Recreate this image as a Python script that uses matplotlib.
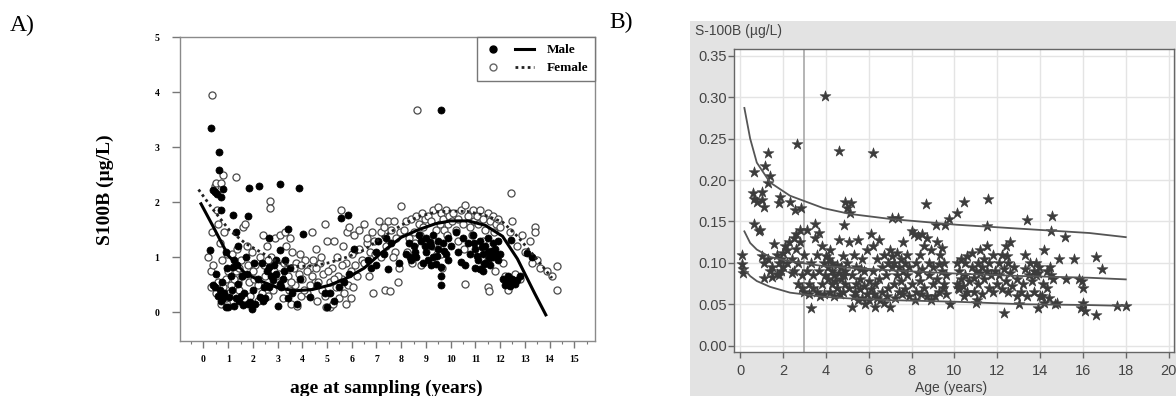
import numpy as np
import matplotlib
matplotlib.use("Agg")
import matplotlib.pyplot as plt
from matplotlib.patches import Rectangle
from matplotlib.lines import Line2D
from matplotlib.legend_handler import HandlerTuple

# ---- Panel A: S100B vs age, by sex (age in years, S100B in ug/L)
male_pts = [
    (0.30, 3.35), (0.62, 2.92), (0.62, 2.59), (0.38, 2.22), (0.45, 2.19), (0.72, 2.10), (0.78, 2.24),
    (0.55, 2.15), (0.72, 1.86), (0.25, 1.13), (0.40, 0.49), (0.45, 0.45), (0.60, 0.30), (0.70, 0.20),
    (0.80, 0.25), (0.90, 0.10), (0.85, 0.35), (0.90, 1.10), (0.75, 0.55), (0.95, 0.80),
    (1.20, 1.76), (1.80, 1.74), (1.84, 2.26), (1.30, 1.45), (1.40, 1.20), (1.25, 0.94), (1.20, 0.82),
    (1.40, 0.52), (1.05, 0.28), (1.00, 0.10), (1.60, 0.13), (1.90, 0.19), (1.15, 0.40), (1.30, 0.25),
    (1.80, 0.15), (1.55, 0.65), (1.75, 0.70), (1.73, 1.00), (1.65, 0.35), (1.45, 0.20), (1.25, 0.12),
    (2.23, 2.29), (2.27, 0.28), (2.10, 0.15), (2.50, 0.25), (2.35, 0.90), (2.67, 1.34), (2.67, 0.82),
    (2.81, 0.58), (2.94, 0.94), (2.55, 0.75), (2.65, 0.45), (2.40, 0.20), (2.20, 0.60), (2.85, 0.85),
    (2.95, 0.70), (3.09, 2.34), (3.08, 1.13), (3.08, 0.52), (3.02, 0.11), (3.42, 1.52), (4.02, 1.43),
    (3.88, 2.25), (3.25, 0.75), (3.20, 0.60), (3.15, 0.45), (3.50, 0.80), (3.60, 0.35), (3.80, 0.15),
    (3.90, 0.60), (4.30, 0.28), (4.60, 0.50), (5.00, 0.09), (5.10, 0.35), (5.30, 0.20), (5.50, 0.45),
    (5.58, 1.71), (5.85, 1.76), (5.90, 0.70), (4.90, 0.35), (5.70, 0.55), (6.10, 1.15),
    (0.50, 0.70), (0.65, 0.40), (1.10, 0.65), (1.50, 0.30), (2.00, 0.40), (2.05, 0.90), (2.75, 0.65),
    (3.30, 0.95), (3.40, 0.25), (1.95, 0.05), (1.35, 0.85), (2.45, 0.45),
    (6.65, 0.95), (7.00, 0.85), (7.05, 1.30), (6.79, 0.80), (7.46, 0.78), (7.30, 1.05), (7.60, 1.25),
    (7.40, 1.35), (7.90, 0.90), (7.00, 1.10),
    (8.20, 1.05), (8.40, 0.95), (8.50, 1.20), (8.60, 1.00), (8.80, 1.30), (8.90, 0.90), (9.00, 1.10),
    (9.00, 1.35), (9.10, 0.95), (9.20, 1.20), (9.30, 1.40), (9.30, 1.00), (9.40, 0.88), (9.50, 1.15),
    (9.50, 1.30), (9.60, 0.82), (9.60, 0.66), (9.60, 0.49), (9.70, 1.25), (9.80, 1.05), (9.90, 1.35),
    (9.90, 0.95), (8.30, 1.25), (8.70, 1.40), (9.20, 0.85), (10.00, 1.20), (9.60, 3.68),
    (8.55, 1.10), (8.95, 1.20), (9.15, 1.28), (9.45, 1.02), (9.75, 1.12), (8.35, 1.00),
    (10.30, 1.10), (10.40, 0.92), (10.50, 1.35), (10.60, 0.85), (10.70, 1.25), (10.80, 1.05),
    (10.90, 1.40), (11.00, 0.80), (11.00, 1.15), (11.10, 0.95), (11.20, 1.30), (11.20, 0.78),
    (11.30, 1.05), (11.40, 1.20), (11.40, 0.90), (11.50, 1.35), (11.50, 1.10), (11.60, 0.85),
    (11.70, 1.00), (11.70, 1.25), (11.80, 1.15), (11.90, 0.95), (11.90, 1.30), (10.20, 1.45),
    (11.30, 0.75), (12.00, 1.05), (11.05, 1.02), (11.25, 1.18), (11.55, 0.98), (11.65, 1.12),
    (10.95, 1.25), (11.35, 0.88), (11.85, 1.05),
    (12.10, 0.60), (12.20, 0.50), (12.30, 0.55), (12.40, 0.48), (12.50, 0.60), (12.60, 0.52),
    (12.70, 0.58), (12.80, 0.65), (12.46, 1.31), (13.10, 1.07), (13.30, 1.00), (12.30, 0.65),
]

female_pts = [
    (0.35, 3.95), (0.20, 1.00), (0.30, 0.75), (0.35, 1.45), (0.45, 2.30), (0.50, 2.35), (0.55, 1.85),
    (0.70, 2.35), (0.80, 2.50), (0.60, 0.55), (0.70, 0.15), (0.80, 0.45), (0.90, 0.60), (0.50, 0.35),
    (0.40, 0.85), (0.60, 1.60), (0.85, 1.45), (0.95, 1.05), (0.75, 0.95), (0.65, 1.25), (0.90, 0.25),
    (0.30, 0.45),
    (1.30, 2.45), (1.10, 0.50), (1.20, 0.20), (1.30, 0.75), (1.45, 0.40), (1.50, 0.95), (1.60, 1.55),
    (1.70, 1.60), (1.75, 1.20), (1.85, 0.55), (1.90, 0.30), (1.15, 1.05), (1.35, 1.15), (1.55, 0.65),
    (1.65, 0.25), (1.80, 0.85), (1.95, 1.10), (1.05, 0.35), (1.40, 0.55), (1.25, 0.60),
    (2.10, 0.85), (2.20, 0.50), (2.30, 1.00), (2.40, 1.40), (2.50, 0.65), (2.60, 0.30), (2.70, 2.02),
    (2.70, 1.90), (2.75, 1.00), (2.80, 0.40), (2.90, 1.35), (2.95, 0.55), (2.20, 0.20), (2.45, 0.85),
    (2.55, 1.20), (2.35, 0.35), (2.85, 0.75), (2.05, 0.60),
    (3.10, 1.40), (3.20, 0.25), (3.30, 1.45), (3.40, 0.65), (3.50, 1.35), (3.55, 0.15), (3.60, 1.10),
    (3.70, 0.50), (3.75, 0.90), (3.80, 0.12), (3.85, 0.70), (3.90, 1.05), (3.95, 0.30), (3.25, 0.90),
    (3.45, 0.40), (3.65, 0.80), (3.35, 1.20), (4.00, 0.60),
    (4.10, 0.95), (4.20, 0.35), (4.30, 0.80), (4.40, 1.45), (4.50, 0.55), (4.55, 1.15), (4.60, 0.20),
    (4.70, 0.90), (4.80, 0.40), (4.85, 0.70), (4.90, 1.60), (4.95, 0.10), (4.20, 0.75), (4.45, 0.95),
    (4.75, 1.00), (4.65, 0.55), (4.30, 0.50), (4.90, 0.30),
    (5.00, 1.30), (5.10, 0.10), (5.20, 0.80), (5.30, 1.30), (5.35, 0.45), (5.40, 1.00), (5.50, 0.25),
    (5.55, 1.85), (5.60, 0.60), (5.65, 1.20), (5.70, 0.35), (5.75, 0.90), (5.80, 1.45), (5.85, 0.50),
    (5.90, 1.55), (5.95, 0.25), (6.00, 1.05), (5.25, 0.15), (5.45, 0.65), (5.60, 0.85), (5.10, 0.55),
    (5.95, 0.75),
    (1.00, 0.75), (1.45, 0.80), (2.00, 0.75), (2.60, 0.95), (3.05, 0.70), (3.55, 0.55), (4.05, 0.40),
    (4.40, 0.65), (5.05, 0.75), (5.30, 0.60), (5.75, 0.15), (6.05, 0.45), (4.55, 0.80), (3.95, 0.85),
    (6.10, 1.40), (6.20, 0.65), (6.30, 1.15), (6.40, 0.95), (6.50, 1.60), (6.60, 1.25), (6.70, 0.65),
    (6.80, 1.45), (6.85, 0.35), (6.90, 1.30), (6.60, 1.35), (6.30, 1.50), (6.15, 0.85), (6.75, 1.10),
    (6.95, 1.05), (6.50, 0.90),
    (7.10, 1.65), (7.20, 1.45), (7.30, 1.55), (7.35, 0.40), (7.45, 1.65), (7.50, 1.25), (7.55, 0.38),
    (7.60, 1.50), (7.70, 1.65), (7.75, 1.10), (7.80, 1.35), (7.90, 0.80), (7.95, 1.45), (7.20, 1.00),
    (7.40, 1.20), (7.65, 1.00), (7.85, 0.55),
    (8.00, 1.93), (8.10, 1.50), (8.20, 1.65), (8.30, 1.35), (8.40, 1.70), (8.50, 1.45), (8.60, 1.75),
    (8.64, 3.68), (8.70, 1.60), (8.80, 0.85), (8.85, 1.80), (8.90, 1.55), (8.95, 1.70), (8.25, 1.10),
    (8.55, 1.25), (8.75, 1.40), (8.45, 0.90),
    (9.10, 1.75), (9.20, 1.65), (9.30, 1.85), (9.40, 1.50), (9.49, 1.92), (9.55, 1.60), (9.60, 1.80),
    (9.65, 0.80), (9.70, 1.70), (9.75, 1.50), (9.80, 1.85), (9.90, 1.60), (9.95, 1.75), (9.30, 1.20),
    (9.45, 1.05), (9.85, 1.40), (9.60, 1.05),
    (10.05, 1.65), (10.10, 1.80), (10.20, 1.50), (10.30, 1.70), (10.40, 1.85), (10.50, 1.60),
    (10.57, 1.95), (10.70, 1.75), (10.57, 0.52), (10.80, 1.55), (10.90, 1.85), (10.95, 1.65),
    (10.30, 1.30), (10.55, 1.15), (10.85, 1.40),
    (11.05, 1.75), (11.10, 1.60), (11.20, 1.85), (11.30, 1.70), (11.40, 1.50), (11.50, 1.80),
    (11.52, 0.46), (11.55, 0.38), (11.60, 1.65), (11.70, 1.75), (11.75, 1.45), (11.80, 0.75),
    (11.85, 1.60), (11.90, 1.70), (11.30, 1.30), (11.50, 0.95),
    (12.00, 1.55), (12.10, 0.90), (12.20, 0.65), (12.30, 0.40), (12.40, 1.45), (12.43, 2.17),
    (12.50, 1.65), (12.60, 0.70), (12.70, 1.20), (12.80, 0.60), (13.00, 1.10), (13.20, 1.30),
    (13.40, 1.55), (13.40, 1.46), (13.50, 0.95), (13.60, 0.80), (13.90, 0.75), (14.30, 0.83),
    (14.30, 0.40), (14.10, 0.65), (12.90, 1.40), (13.30, 0.90),
]

# fitted curves
fit_age = [-0.1, 0.4, 1.0, 1.7, 2.4, 3.1, 3.75, 4.4, 5.1, 5.8, 6.5, 7.2, 8.0, 8.7, 9.4, 10.0,
           10.7, 11.4, 12.1, 12.7, 13.4, 13.85]
male_fit = [1.97, 1.55, 1.03, 0.70, 0.55, 0.43, 0.39, 0.41, 0.49, 0.62, 0.80, 1.08, 1.36, 1.50,
            1.61, 1.66, 1.66, 1.58, 1.38, 0.97, 0.34, -0.05]
fem_age = [-0.2, 0.4, 1.05, 1.7, 2.4, 3.1, 3.75, 4.4, 5.1, 5.8, 6.5, 7.2, 8.0, 8.7, 9.4, 10.0,
           10.7, 11.4, 12.1, 12.7, 13.4, 14.1]
fem_fit = [2.23, 1.86, 1.49, 1.25, 1.07, 0.89, 0.83, 0.84, 0.90, 1.00, 1.13, 1.35, 1.58, 1.74,
           1.82, 1.84, 1.83, 1.76, 1.64, 1.38, 1.01, 0.62]

# ---- Panel B: S-100B vs age with percentile curves
stars = [
    (3.97, 0.302), (2.67, 0.243), (4.62, 0.235), (6.21, 0.233), (1.29, 0.233), (1.16, 0.217),
    (0.66, 0.210), (1.41, 0.205), (1.29, 0.196),
    (0.60, 0.184), (0.66, 0.177), (1.03, 0.186), (1.00, 0.176), (1.12, 0.167), (0.78, 0.174),
    (1.84, 0.180), (1.81, 0.172), (2.33, 0.173), (2.55, 0.164), (2.84, 0.166), (0.64, 0.147),
    (0.95, 0.140), (0.86, 0.139),
    (4.91, 0.174), (5.17, 0.172), (5.00, 0.166), (5.14, 0.160), (4.83, 0.146), (8.67, 0.171),
    (10.47, 0.173), (11.55, 0.177), (10.14, 0.160), (9.74, 0.153), (9.14, 0.146), (9.57, 0.146),
    (7.07, 0.154), (7.38, 0.154), (11.52, 0.144), (13.40, 0.152), (14.57, 0.156), (14.52, 0.139),
    (15.17, 0.131),
    (0.10, 0.110), (0.10, 0.098), (0.15, 0.092), (0.15, 0.088), (1.00, 0.108), (1.10, 0.100),
    (1.10, 0.082), (1.30, 0.105),
    (1.50, 0.095), (1.60, 0.123), (1.70, 0.110), (1.80, 0.085), (1.80, 0.100), (1.90, 0.090),
    (1.90, 0.105), (2.00, 0.112), (1.40, 0.090), (1.70, 0.087), (1.50, 0.083), (2.00, 0.095),
    (2.10, 0.120), (2.20, 0.100), (2.20, 0.115), (2.30, 0.125), (2.40, 0.088), (2.40, 0.105),
    (2.50, 0.130), (2.50, 0.090), (2.60, 0.117), (2.70, 0.075), (2.70, 0.100), (2.80, 0.140),
    (2.80, 0.125), (2.90, 0.070), (2.90, 0.085), (3.00, 0.065), (2.60, 0.135), (3.00, 0.110),
    (3.10, 0.140), (3.10, 0.090), (3.20, 0.075), (3.20, 0.062), (3.30, 0.045), (3.30, 0.100),
    (3.40, 0.085), (3.50, 0.130), (3.50, 0.147), (3.60, 0.065), (3.60, 0.110), (3.70, 0.136),
    (3.70, 0.090), (3.80, 0.120), (3.80, 0.075), (3.90, 0.100), (3.90, 0.062), (4.00, 0.108),
    (3.40, 0.070), (3.75, 0.060), (3.95, 0.085),
    (4.10, 0.095), (4.10, 0.080), (4.20, 0.115), (4.20, 0.065), (4.30, 0.090), (4.30, 0.100),
    (4.30, 0.075), (4.40, 0.085), (4.40, 0.060), (4.50, 0.097), (4.50, 0.070), (4.60, 0.128),
    (4.60, 0.088), (4.70, 0.080), (4.70, 0.095), (4.80, 0.065), (4.80, 0.108), (4.90, 0.090),
    (4.90, 0.075), (5.00, 0.100), (4.15, 0.105), (4.45, 0.078), (4.65, 0.062), (4.85, 0.085),
    (5.10, 0.125), (5.10, 0.070), (5.20, 0.047), (5.20, 0.085), (5.30, 0.110), (5.30, 0.060),
    (5.40, 0.075), (5.40, 0.095), (5.50, 0.127), (5.50, 0.055), (5.60, 0.068), (5.60, 0.080),
    (5.70, 0.105), (5.70, 0.058), (5.80, 0.072), (5.80, 0.090), (5.90, 0.062), (5.90, 0.115),
    (6.00, 0.078), (6.00, 0.055), (5.35, 0.065), (5.65, 0.092), (5.85, 0.050),
    (6.10, 0.135), (6.10, 0.068), (6.20, 0.120), (6.20, 0.090), (6.30, 0.047), (6.30, 0.075),
    (6.40, 0.105), (6.40, 0.058), (6.50, 0.128), (6.50, 0.080), (6.60, 0.065), (6.60, 0.095),
    (6.70, 0.110), (6.70, 0.052), (6.80, 0.085), (6.90, 0.070), (6.90, 0.100), (7.00, 0.047),
    (7.00, 0.115), (6.25, 0.062), (6.55, 0.055), (6.85, 0.060),
    (7.10, 0.095), (7.10, 0.108), (7.20, 0.075), (7.20, 0.100), (7.30, 0.112), (7.30, 0.085),
    (7.40, 0.065), (7.40, 0.095), (7.50, 0.105), (7.50, 0.078), (7.60, 0.090), (7.60, 0.125),
    (7.70, 0.068), (7.70, 0.100), (7.80, 0.110), (7.80, 0.085), (7.90, 0.060), (7.90, 0.095),
    (8.00, 0.138), (8.00, 0.075), (7.25, 0.058), (7.55, 0.062),
    (8.10, 0.135), (8.20, 0.100), (8.20, 0.065), (8.30, 0.088), (8.30, 0.132), (8.40, 0.110),
    (8.40, 0.078), (8.50, 0.135), (8.50, 0.092), (8.60, 0.070), (8.60, 0.120), (8.70, 0.130),
    (8.70, 0.060), (8.80, 0.100), (8.80, 0.085), (8.90, 0.055), (8.90, 0.115), (9.00, 0.075),
    (9.00, 0.095), (8.15, 0.055), (8.45, 0.062),
    (9.10, 0.060), (9.20, 0.125), (9.20, 0.080), (9.30, 0.098), (9.30, 0.065), (9.40, 0.118),
    (9.40, 0.090), (9.50, 0.100), (9.50, 0.075), (9.60, 0.085), (9.60, 0.062), (9.80, 0.050),
    (9.35, 0.110), (9.45, 0.070),
    (10.10, 0.075), (10.10, 0.100), (10.20, 0.068), (10.20, 0.090), (10.30, 0.105), (10.30, 0.080),
    (10.40, 0.072), (10.50, 0.100), (10.50, 0.085), (10.60, 0.065), (10.60, 0.108), (10.70, 0.078),
    (10.80, 0.112), (10.80, 0.095), (10.90, 0.065), (10.90, 0.082), (11.00, 0.052), (11.00, 0.090),
    (10.15, 0.070), (10.45, 0.060),
    (11.10, 0.100), (11.10, 0.075), (11.20, 0.088), (11.20, 0.115), (11.30, 0.062), (11.30, 0.095),
    (11.40, 0.080), (11.40, 0.105), (11.50, 0.120), (11.50, 0.090), (11.60, 0.070), (11.60, 0.100),
    (11.70, 0.085), (11.80, 0.110), (11.80, 0.065), (11.90, 0.090), (12.00, 0.075), (11.05, 0.055),
    (12.10, 0.100), (12.10, 0.085), (12.20, 0.068), (12.20, 0.110), (12.30, 0.040), (12.30, 0.092),
    (12.40, 0.078), (12.40, 0.120), (12.50, 0.100), (12.50, 0.065), (12.60, 0.125), (12.60, 0.088),
    (12.70, 0.072), (12.80, 0.095), (12.90, 0.060), (12.90, 0.080), (13.00, 0.050), (12.45, 0.108),
    (13.10, 0.065), (13.20, 0.075), (13.30, 0.110), (13.30, 0.092), (13.40, 0.060), (13.50, 0.085),
    (13.60, 0.078), (13.70, 0.090), (13.70, 0.065), (13.80, 0.100), (13.80, 0.085), (13.90, 0.045),
    (13.90, 0.088), (14.00, 0.060), (13.55, 0.100), (13.95, 0.095),
    (14.10, 0.060), (14.20, 0.115), (14.20, 0.052), (14.30, 0.090), (14.30, 0.070), (14.40, 0.058),
    (14.50, 0.085), (14.60, 0.080), (14.70, 0.050), (14.80, 0.052), (14.90, 0.105), (14.15, 0.075),
    (14.45, 0.095),
    (15.20, 0.080), (15.60, 0.105), (15.80, 0.080), (15.90, 0.045), (16.00, 0.070), (16.00, 0.052),
    (16.10, 0.042), (16.60, 0.037), (16.60, 0.107), (16.90, 0.092), (17.60, 0.048), (18.00, 0.048),
    (15.95, 0.078),
]

pct_age = [0.2, 0.47, 0.78, 1.4, 2.33, 3.89, 5.13, 7.0, 10.1, 13.2, 16.3, 18.0]
pct_upper = [0.287, 0.250, 0.221, 0.197, 0.181, 0.166, 0.159, 0.153, 0.146, 0.141, 0.136, 0.131]
pct_mid = [0.138, 0.124, 0.116, 0.107, 0.102, 0.096, 0.094, 0.091, 0.087, 0.084, 0.082, 0.080]
pct_low = [0.092, 0.084, 0.078, 0.071, 0.064, 0.059, 0.057, 0.055, 0.053, 0.050, 0.049, 0.048]

W, H = 1176, 396


def box(l, t, r, b):
    return [l / W, 1 - b / H, (r - l) / W, (b - t) / H]


fig = plt.figure(figsize=(W / 100, H / 100), dpi=100)
fig.add_artist(Rectangle((690 / W, 0), (W - 690) / W, (H - 21) / H, transform=fig.transFigure,
                         facecolor="#e3e3e3", edgecolor="none", zorder=-5))

serif = "Liberation Serif"
sans = "Liberation Sans"

# ---------------- Panel A
axA = fig.add_axes(box(179.5, 37.3, 595, 340.7))
mx, my = np.array(male_pts).T
fx, fy = np.array(female_pts).T
axA.scatter(fx, fy, s=26, facecolor="white", edgecolor="#4a4a4a", lw=0.9, zorder=2)
axA.scatter(mx, my, s=26, facecolor="black", edgecolor="black", lw=0.5, zorder=3)
axA.plot(fit_age, male_fit, color="black", lw=2.2, zorder=4)
axA.plot(fem_age, fem_fit, color="#222222", lw=2.0, ls=(0, (1, 1.2)), zorder=4)
axA.set_xlim(-0.97, 15.84)
axA.set_ylim(-0.52, 5)
axA.set_xticks(range(16))
axA.set_xticks(np.arange(-0.5, 15.6, 0.5), minor=True)
axA.set_yticks(range(6))
for s in axA.spines.values():
    s.set_color("#8a8a8a")
    s.set_linewidth(1.0)
axA.tick_params(axis="x", which="major", length=5, width=1, color="#777777", pad=5)
axA.tick_params(axis="x", which="minor", length=2.5, width=0.8, color="#777777")
axA.tick_params(axis="y", length=5.5, width=1, color="#777777", pad=9)
for lab in axA.get_xticklabels() + axA.get_yticklabels():
    lab.set_family(serif)
    lab.set_weight("bold")
    lab.set_fontsize(7)

h_m = (Line2D([], [], ls="none", marker="o", ms=5, mfc="black", mec="black"),
       Line2D([], [], color="black", lw=2.2))
h_f = (Line2D([], [], ls="none", marker="o", ms=5, mfc="white", mec="#666666"),
       Line2D([], [], color="#222222", lw=2.0, ls=(0, (1, 1.2))))
leg = axA.legend([h_m, h_f], ["Male", "Female"], loc="upper right", borderaxespad=0,
                 handler_map={tuple: HandlerTuple(ndivide=2, pad=1.0)}, handlelength=3.8,
                 handletextpad=1.0, fancybox=False, edgecolor="#777777", framealpha=1,
                 borderpad=0.5, labelspacing=0.45,
                 prop={"family": serif, "weight": "bold", "size": 9.5})
leg.get_frame().set_linewidth(1.0)

fig.text(105 / W, 1 - 190 / H, "S100B (µg/L)", rotation=90, ha="center", va="center",
         family=serif, weight="bold", fontsize=14)
fig.text(386 / W, 1 - 388 / H, "age at sampling (years)", ha="center", va="center",
         family=serif, weight="bold", fontsize=14)
fig.text(10 / W, 1 - 25 / H, "A)", ha="left", va="center", family=serif, fontsize=17)
fig.text(609 / W, 1 - 22 / H, "B)", ha="left", va="center", family=serif, fontsize=17)

# ---------------- Panel B
axB = fig.add_axes(box(734.3, 49.3, 1174, 351.7))
axB.set_xlim(-0.27, 20.25)
axB.set_ylim(-0.0073, 0.3578)
axB.set_xticks(range(0, 21, 2))
axB.set_yticks(np.arange(0, 0.351, 0.05))
axB.set_yticklabels([f"{v:.2f}" for v in np.arange(0, 0.351, 0.05)])
axB.grid(True, color="#e4e4e4", lw=1.0, zorder=0)
axB.set_axisbelow(True)
axB.axvline(3, color="#a8a8a8", lw=1.2, zorder=1)
sx, sy = np.array(stars).T
axB.scatter(sx, sy, marker="*", s=68, color="#3c3c3c", edgecolor="#3c3c3c", lw=0.4, zorder=3)
for curve in (pct_upper, pct_mid, pct_low):
    axB.plot(pct_age, curve, color="#555555", lw=1.3, zorder=4)
for s in axB.spines.values():
    s.set_color("#666666")
    s.set_linewidth(1.0)
axB.tick_params(axis="both", length=4.5, width=1, color="#666666", labelcolor="#444444",
                labelsize=10.5)
axB.tick_params(axis="y", pad=1)
axB.tick_params(axis="x", pad=4)
for lab in axB.get_xticklabels() + axB.get_yticklabels():
    lab.set_family(sans)
fig.text(695 / W, 1 - 31 / H, "S-100B (µg/L)", ha="left", va="center", family=sans,
         fontsize=10, color="#444444")
fig.text(951 / W, 1 - 395 / H, "Age (years)", ha="center", va="bottom", family=sans,
         fontsize=10, color="#444444")

fig.savefig("out.png", dpi=100)
